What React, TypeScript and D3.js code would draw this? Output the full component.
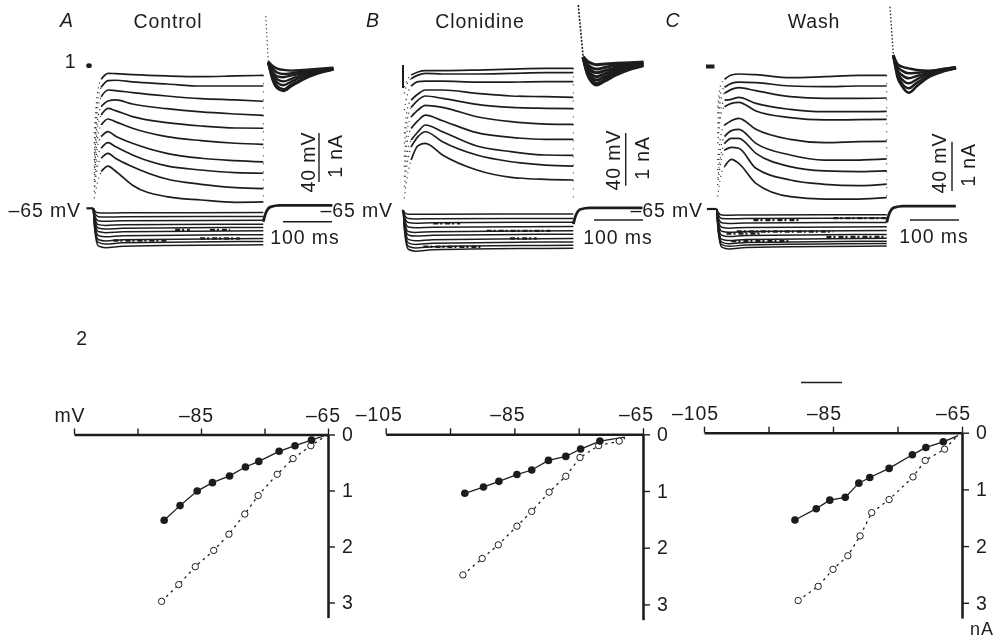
import React, { useEffect, useRef } from 'react';
import * as d3 from 'd3';

// sweep sample times (ms after pulse onset); first three are the dotted fast rise
const sweepTimes = [2, 8, 16, 30, 45, 80, 150, 220, 290, 347];
// current step shape
const stepTimes = [0, 3, 10, 25, 60, 347];
const stepShape = [0, 0.6, 1.03, 1.08, 1.04, 1];
const tailTimes = [347, 352, 362, 380, 488];
const tailCurrent = [0.28, 0.1, -0.03, -0.06, -0.06];

// voltage sweeps, mV from rest
const sweepsA = [
  [62.5, 94.4, 107.5, 112.5, 112.2, 111.4, 110.3, 109.7, 110.3, 110.8],
  [54.2, 87.5, 100.8, 106.4, 106.7, 105.3, 103.6, 101.9, 101.9, 101.9],
  [45.8, 79.2, 93, 98.6, 98.1, 96.4, 93.6, 91.4, 90.3, 89.2],
  [40.3, 72.2, 84.7, 89.4, 90.3, 86.9, 83, 80.3, 78.6, 77.5],
  [34.7, 65.3, 77.8, 83.3, 81.4, 76.4, 71.4, 68.6, 66.9, 66.7],
  [29.2, 56.9, 69.4, 74.4, 72.2, 66.7, 59.7, 56.4, 54.2, 53.3],
  [23.6, 50, 59.7, 63.9, 60.3, 54.2, 45.8, 41.7, 39.7, 38.6],
  [18, 41.7, 50, 54.7, 51.4, 44.4, 35.3, 31.9, 29.7, 29.2],
  [13.9, 33.3, 41.7, 45.8, 41.7, 34.7, 24.4, 20, 17.2, 16.4],
  [8.3, 20.8, 30.6, 35.2, 31.1, 19.2, 9.7, 6.9, 5, 5.3],
];
const sweepsB = [
  [103, 109, 113, 115.6, 116.7, 116.7, 117.2, 118, 118.6, 118.6],
  [97.8, 106, 110, 113, 114.4, 113.9, 113.9, 114.4, 115, 115],
  [83.9, 96.4, 103.9, 107.5, 108, 108, 107.2, 107.2, 107.5, 107.5],
  [64.4, 83.9, 92.2, 97.2, 100.6, 100.6, 97.8, 95.6, 95, 94.4],
  [56.1, 75.6, 86.1, 92.2, 95.6, 93.6, 88.6, 86.1, 85.3, 85],
  [45, 67.2, 78.3, 83.9, 87.8, 86.1, 78.3, 74.2, 72.2, 71.9],
  [36.7, 57.5, 68.6, 75, 79.7, 75, 65, 61.1, 59.4, 59.4],
  [28.3, 47.8, 58.9, 65.8, 71.4, 65.8, 53.9, 49.2, 46.4, 46.1],
  [20, 39.4, 53.3, 61.7, 65.8, 57.5, 46.4, 40.8, 38, 37.2],
  [10.3, 28.3, 42.2, 54.2, 56.1, 46.4, 33.9, 27.8, 26.1, 25.6],
];
const sweepsC = [
  [85.3, 103.3, 108.1, 111.7, 112.5, 111.9, 109.4, 110.3, 111.4, 111.4],
  [79.7, 96.4, 101.4, 104.7, 105.8, 105.3, 102.5, 101.9, 102.5, 102.5],
  [71.4, 90.8, 96.4, 99.7, 101.1, 98.6, 93.6, 92.2, 92.2, 92.5],
  [63, 82.5, 90.8, 91.4, 93, 88, 83, 81.1, 81.1, 81.4],
  [54.7, 76.9, 85.3, 88, 88.9, 81.7, 76.1, 74.2, 74.4, 74.7],
  [40.8, 60.3, 70, 73.6, 75.6, 66.4, 58, 55.3, 56.1, 56.4],
  [32.5, 50.6, 60.3, 65.3, 66.4, 54.7, 45, 40.8, 40.8, 41.7],
  [25.6, 43.6, 54.7, 58.9, 58.9, 46.4, 35.3, 31.7, 31.1, 31.7],
  [20, 38, 49.2, 51.4, 50.6, 33.9, 24.2, 20.6, 19.4, 20.8],
  [10.3, 26.9, 35.3, 41.4, 38, 21.4, 10.3, 8.3, 8.3, 9.4],
];

// current steps, nA
const stepsA = [0.09, 0.17, 0.25, 0.33, 0.4, 0.47, 0.55, 0.63, 0.69, 0.76];
const stepsB = [0.07, 0.16, 0.24, 0.33, 0.42, 0.49, 0.58, 0.65, 0.72, 0.78];
const stepsC = [0.12, 0.19, 0.28, 0.37, 0.45, 0.53, 0.61, 0.67, 0.72, 0.77];

// pen specks on the current sweeps: [from ms, to ms, nA]
const specksA = [[41, 150, 0.67], [167, 197, 0.45], [218, 299, 0.63], [238, 279, 0.45]];
const specksB = [[218, 272, 0.58], [61, 116, 0.26], [41, 163, 0.75], [170, 300, 0.42]];
const specksC = [[20, 88, 0.51], [41, 238, 0.47], [224, 347, 0.58], [75, 170, 0.23], [238, 347, 0.19], [30, 150, 0.67]];

// tail sweeps after the pulse
const tailTimesA = [357, 366, 375.5, 388, 405, 429, 456, 490];
const tailsA = [
  [122.2, 118.6, 116.4, 115.3, 114.7, 115.3, 116.1, 117.2],
  [122.2, 116.7, 113, 111.9, 112.5, 113.9, 115.3, 116.7],
  [121.7, 113.9, 109.9, 109.2, 110.8, 112.5, 114.7, 116.4],
  [121.4, 111.9, 107.5, 105.8, 108, 111.4, 114.2, 116.1],
  [121.4, 110.3, 104.7, 102.5, 105.8, 109.7, 113, 115.8],
  [121.4, 108.3, 101.9, 99.2, 103.6, 108, 112.5, 115.8],
  [121.4, 106.9, 100, 97.8, 101.9, 107.5, 112, 115.6],
];
const tailTimesB = [367, 375.5, 384, 394.5, 411.6, 435.4, 462.6, 490];
const tailsB = [
  [128.3, 124.7, 122.8, 121.7, 122.2, 122.8, 123.3, 123.9],
  [128.3, 122.2, 119.2, 118, 119.4, 121.1, 122.5, 123.3],
  [127.8, 120, 116.4, 115, 116.7, 119.2, 121.4, 122.8],
  [127.8, 118, 113.6, 111.7, 114.2, 117.5, 120.6, 122.2],
  [127.8, 116.7, 111.1, 108.9, 111.7, 115.8, 119.4, 121.7],
  [127.8, 115, 108.9, 106.1, 109.4, 114.4, 118.6, 121.4],
  [127.8, 113.9, 107.5, 104.7, 108.1, 113.3, 117.8, 120.8],
];
const tailTimesC = [360.5, 369, 378, 391.8, 408.8, 432, 459.2, 488.4];
const tailsC = [
  [128.3, 120.8, 118.6, 117.2, 115.8, 115.3, 116.4, 118.1],
  [128.3, 118.6, 115.3, 113.1, 113.6, 114.4, 116.4, 118.1],
  [127.8, 115.8, 111.7, 108.9, 110.8, 113.6, 115.8, 117.8],
  [127.8, 113.6, 108.1, 104.7, 108.1, 112.5, 115.3, 117.5],
  [127.8, 111.7, 104.7, 100.6, 105.3, 110.8, 114.7, 117.5],
  [127.8, 109.7, 102.5, 96.9, 102.5, 109.7, 114.2, 117.2],
];

// fast transient at pulse end: [ms, mV]
const transientA = [[352, 160], [357, 122.2]];
const transientB = [[357, 171.4], [367, 128.3]];
const transientC = [[353.7, 168.6], [360.5, 128.3]];

// I-V curves: membrane potential (mV) vs current (nA)
const peakVA = [-90.8, -88.3, -85.6, -83.2, -80.5, -78, -75.9, -72.7, -70.2, -67.6];
const peakIA = [1.53, 1.27, 1.01, 0.86, 0.74, 0.58, 0.48, 0.3, 0.2, 0.1];
const steadyVA = [-91.2, -88.5, -85.9, -83, -80.6, -78.1, -76, -73, -70.5, -67.7];
const steadyIA = [2.98, 2.68, 2.36, 2.07, 1.78, 1.42, 1.09, 0.71, 0.43, 0.2];

const peakVB = [-92.7, -89.8, -87.4, -84.6, -82.3, -79.7, -77, -74.7, -71.7];
const peakIB = [1.04, 0.93, 0.83, 0.71, 0.63, 0.46, 0.39, 0.26, 0.12];
const steadyVB = [-93, -90, -87.5, -84.6, -82.3, -79.6, -77, -74.8, -71.9, -68.7];
const steadyIB = [2.48, 2.19, 1.95, 1.62, 1.36, 1.02, 0.74, 0.41, 0.2, 0.12];

const peakVC = [-90.9, -87.6, -85.5, -83.1, -81, -79.3, -76.3, -72.7, -70.6, -67.9];
const peakIC = [1.54, 1.34, 1.19, 1.14, 0.89, 0.79, 0.63, 0.39, 0.26, 0.16];
const steadyVC = [-90.4, -87.3, -85, -82.7, -80.8, -79, -76.3, -72.6, -70.7, -67.7];
const steadyIC = [2.96, 2.71, 2.41, 2.17, 1.82, 1.41, 1.18, 0.78, 0.49, 0.29];

const mvTicks = [-105, -95, -85, -75, -65];
const naTicks = [0, 1, 2, 3];

const INK = '#1f1f1f';
const FONT = '"Liberation Sans", Arial, sans-serif';
const SIZE = 19.5;

export default function App() {
  const ref = useRef<SVGSVGElement>(null);

  useEffect(() => {
    const svg = d3.select(ref.current);
    svg.selectAll('*').remove();

    svg.append('filter').attr('id', 'scan')
      .attr('x', '-5%').attr('y', '-5%').attr('width', '110%').attr('height', '110%')
      .append('feGaussianBlur').attr('stdDeviation', 0.4);
    const root = svg.append('g').attr('filter', 'url(#scan)');

    const label = (x: number, y: number, s: string, anchor = 'middle', size = SIZE, extra?: string) => {
      const t = root.append('text').attr('x', x).attr('y', y)
        .attr('text-anchor', anchor)
        .attr('font-family', FONT)
        .attr('font-size', size)
        .attr('letter-spacing', 0.9)
        .attr('fill', INK)
        .text(s);
      if (extra) t.attr('transform', extra);
      return t;
    };
    const rotated = (x: number, y: number, s: string) =>
      label(x, y, s, 'middle', SIZE, `rotate(-90 ${x} ${y})`).attr('dominant-baseline', 'central');

    // ---- top row: recordings
    const drawTraces = (p: any) => {
      const x = d3.scaleLinear().domain([0, 100]).range([p.x0, p.x0 + 49]);
      const yV = d3.scaleLinear().domain([0, 100]).range([p.base, p.base - 120]);
      const yI = d3.scaleLinear().domain([0, 1]).range([p.base, p.base + 48]);

      const lineV = d3.line<any>().x(d => x(d[0])).y(d => yV(d[1])).curve(d3.curveMonotoneX);
      const lineI = d3.line<any>().x(d => x(d[0])).y(d => yI(d[1])).curve(d3.curveMonotoneX);
      const g = root.append('g').attr('fill', 'none').attr('stroke', INK);

      p.sweeps.forEach((row: number[]) => {
        const pts = row.map((v, i) => [sweepTimes[i], v]);
        g.append('path').attr('d', lineV(pts.slice(2)))
          .attr('stroke-width', 1.7);
        g.append('path').attr('d', lineV(pts.slice(0, 3)))
          .attr('stroke-width', 1.2)
          .attr('stroke-dasharray', '1 4');
      });
      // dotted return at the end of the pulse
      g.append('line')
        .attr('x1', x(347)).attr('x2', x(347))
        .attr('y1', yV(p.sweeps[0][9])).attr('y2', yV(8))
        .attr('stroke-width', 1).attr('stroke-dasharray', '1 7');

      p.steps.forEach((level: number) => {
        const pts = stepTimes.map((t, i) => [t, level * stepShape[i]]);
        g.append('path').attr('d', lineI(pts)).attr('stroke-width', 1.5);
      });
      p.specks.forEach((s: number[]) => {
        g.append('path').attr('d', lineI([[s[0], s[2]], [s[1], s[2]]]))
          .attr('stroke-width', 2.4).attr('stroke-dasharray', '5 2 2 3');
      });
      // pre-pulse stub and post-pulse return
      g.append('path').attr('d', lineI([[p.preT, 0], [0, 0]])).attr('stroke-width', 2.2);
      g.append('path').attr('d', lineI(tailTimes.map((t, i) => [t, tailCurrent[i]]))).attr('stroke-width', 2.8);

      // tail currents
      g.append('path').attr('d', lineV(p.transient))
        .attr('stroke-width', p.transientW).attr('stroke-dasharray', p.transientDash);
      p.tails.forEach((row: number[]) => {
        g.append('path')
          .attr('d', lineV(row.map((v, i) => [p.tailTimes[i], v])))
          .attr('stroke-width', p.tailW);
      });

      // scale bars
      g.append('line').attr('x1', p.barX).attr('x2', p.barX)
        .attr('y1', p.barTop).attr('y2', p.barBottom).attr('stroke-width', 1.4);
      g.append('line').attr('x1', p.msX).attr('x2', p.msX + 49)
        .attr('y1', p.msY).attr('y2', p.msY).attr('stroke-width', 1.5);

      rotated(p.mvX, p.mvY, '40 mV');
      rotated(p.naX, p.naY, '1 nA');
      label(p.msText, p.msBase, '100 ms');
      label(p.restEnd, 216.5, '\u201365 mV', 'end');
      label(p.letterX, 27, p.letter, 'middle', SIZE).attr('font-style', 'italic');
      label(p.titleX, 27.5, p.title);
    };

    drawTraces({
      letter: 'A', letterX: 67, title: 'Control', titleX: 168,
      x0: 93.3, base: 208.3, preT: -14, sweeps: sweepsA, steps: stepsA, specks: specksA,
      tails: tailsA, tailTimes: tailTimesA, transient: transientA, transientW: 1.2, transientDash: '1 3', tailW: 2.4,
      barX: 319, barTop: 133, barBottom: 182, mvX: 308, mvY: 162, naX: 335, naY: 156,
      msX: 283, msY: 221.7, msText: 305, msBase: 244, restEnd: 81,
    });
    drawTraces({
      letter: 'B', letterX: 373, title: 'Clonidine', titleX: 480,
      x0: 403.3, base: 210.7, preT: -3, sweeps: sweepsB, steps: stepsB, specks: specksB,
      tails: tailsB, tailTimes: tailTimesB, transient: transientB, transientW: 1.6, transientDash: '2 1.5', tailW: 3,
      barX: 625.7, barTop: 133, barBottom: 185.7, mvX: 613, mvY: 160, naX: 642, naY: 158,
      msX: 594, msY: 220, msText: 618, msBase: 244, restEnd: 393,
    });
    drawTraces({
      letter: 'C', letterX: 673, title: 'Wash', titleX: 814,
      x0: 716.7, base: 209, preT: -20, sweeps: sweepsC, steps: stepsC, specks: specksC,
      tails: tailsC, tailTimes: tailTimesC, transient: transientC, transientW: 1.3, transientDash: '1.5 2', tailW: 2.5,
      barX: 952, barTop: 141.7, barBottom: 191, mvX: 939, mvY: 163, naX: 968, naY: 165,
      msX: 910, msY: 220, msText: 934, msBase: 243, restEnd: 703,
    });

    label(70.5, 68, '1');
    // stimulus artefacts before each sweep family
    root.append('ellipse').attr('cx', 89).attr('cy', 65.7).attr('rx', 2.8).attr('ry', 2.4).attr('fill', INK);
    root.append('rect').attr('x', 402).attr('y', 65).attr('width', 2).attr('height', 23).attr('fill', INK);
    root.append('rect').attr('x', 706).attr('y', 64.5).attr('width', 8.5).attr('height', 4).attr('fill', INK);

    // ---- bottom row: I-V plots
    const drawIV = (p: any) => {
      const x = d3.scaleLinear().domain([-105, -65]).range([p.left, p.right]);
      const y = d3.scaleLinear().domain([0, 3.27]).range([p.y0, p.y0 + p.unit * 3.27]);
      const line = d3.line<any>().x(d => x(d[0])).y(d => y(d[1]));
      const g = root.append('g');

      const xAxis = d3.axisTop(x).tickValues(mvTicks).tickSize(6).tickSizeOuter(0).tickPadding(7)
        .tickFormat(d => (p.xLabels.includes(+d) ? `\u2013${Math.abs(+d)}` : ''));
      const xg = g.append('g').attr('transform', `translate(0,${p.y0})`).call(xAxis);
      const yAxis = d3.axisRight(y).tickValues(naTicks).tickSize(7).tickSizeOuter(0).tickPadding(7)
        .tickFormat(d3.format('d'));
      const yg = g.append('g').attr('transform', `translate(${p.right},0)`).call(yAxis);

      [xg, yg].forEach(a => {
        a.select('.domain').attr('stroke', INK).attr('stroke-width', 2.6);
        a.selectAll('.tick line').attr('stroke', INK).attr('stroke-width', 1.4);
        a.selectAll('text')
          .attr('font-family', FONT).attr('font-size', SIZE).attr('fill', INK).attr('letter-spacing', 0.9);
      });
      xg.selectAll('text').attr('dx', p.labelShift);

      const steady = p.steadyV.map((v: number, i: number) => [v, p.steadyI[i]]);
      const peak = p.peakV.map((v: number, i: number) => [v, p.peakI[i]]);

      g.append('path').attr('d', line([...steady, p.steadyEnd]))
        .attr('fill', 'none').attr('stroke', INK).attr('stroke-width', 1.3).attr('stroke-dasharray', '2.5 4');
      g.append('path').attr('d', line([...peak, p.peakEnd]))
        .attr('fill', 'none').attr('stroke', INK).attr('stroke-width', 1.3);

      g.selectAll('circle.steady').data(steady).enter().append('circle')
        .attr('class', 'steady')
        .attr('cx', (d: any) => x(d[0])).attr('cy', (d: any) => y(d[1])).attr('r', 3.2)
        .attr('fill', 'white').attr('stroke', INK).attr('stroke-width', 1);
      g.selectAll('circle.peak').data(peak).enter().append('circle')
        .attr('class', 'peak')
        .attr('cx', (d: any) => x(d[0])).attr('cy', (d: any) => y(d[1])).attr('r', 3.8)
        .attr('fill', INK);
    };

    drawIV({
      left: 74, right: 328, y0: 434.5, unit: 56, xLabels: [-85, -65], labelShift: -5,
      peakV: peakVA, peakI: peakIA, steadyV: steadyVA, steadyI: steadyIA,
      peakEnd: [-65, 0], steadyEnd: [-65, 0],
    });
    drawIV({
      left: 385.7, right: 643, y0: 434.3, unit: 56.7, xLabels: [-105, -85, -65], labelShift: -7,
      peakV: peakVB, peakI: peakIB, steadyV: steadyVB, steadyI: steadyIB,
      peakEnd: [-67.8, 0.05], steadyEnd: [-67.8, 0.07],
    });
    drawIV({
      left: 704, right: 962, y0: 432.7, unit: 56.7, xLabels: [-105, -85, -65], labelShift: -9,
      peakV: peakVC, peakI: peakIC, steadyV: steadyVC, steadyI: steadyIC,
      peakEnd: [-65.6, 0.05], steadyEnd: [-65.6, 0.04],
    });

    label(82, 344.5, '2');
    label(70, 421.5, 'mV');
    label(982, 635, 'nA', 'middle', 18);
    root.append('line').attr('x1', 801).attr('x2', 842).attr('y1', 382.5).attr('y2', 382.5)
      .attr('stroke', INK).attr('stroke-width', 1.6);
  }, []);

  return (
    <svg
      ref={ref}
      width={1002}
      height={639}
      style={{ position: 'absolute', left: 0, top: 0, background: '#fff' }}
    />
  );
}
